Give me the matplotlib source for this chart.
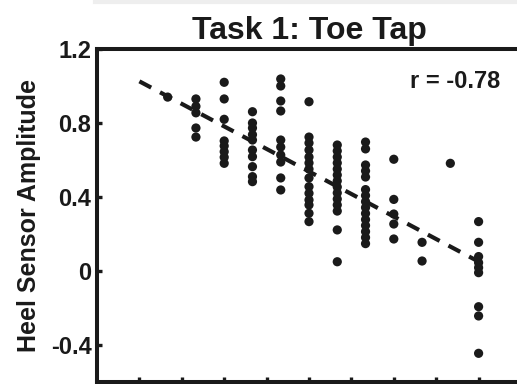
import matplotlib
matplotlib.use("Agg")
import matplotlib.pyplot as plt
from matplotlib.lines import Line2D
import numpy as np

plt.rcParams['font.family'] = ['Liberation Sans', 'DejaVu Sans']
plt.rcParams['font.weight'] = 'bold'

# Heel sensor amplitude for each score level of the toe-tap task
scores = [5, 7, 9, 11, 13, 15, 17, 19, 21, 23, 25, 27]
amplitudes = [
    [0.94],
    [0.93, 0.89, 0.855, 0.773, 0.724],
    [1.02, 0.93, 0.82, 0.703, 0.676, 0.645, 0.615, 0.582],
    [0.861, 0.80, 0.773, 0.737, 0.708, 0.654, 0.618, 0.564, 0.51, 0.483],
    [1.038, 1.0, 0.919, 0.865, 0.708, 0.67, 0.627, 0.589, 0.503, 0.438],
    [0.915, 0.724, 0.692, 0.654, 0.616, 0.584, 0.551, 0.503, 0.456, 0.42,
     0.384, 0.357, 0.312, 0.267],
    [0.681, 0.649, 0.616, 0.584, 0.551, 0.519, 0.487, 0.454, 0.422, 0.389,
     0.357, 0.324, 0.222, 0.05],
    [0.697, 0.66, 0.573, 0.541, 0.508, 0.44, 0.408, 0.375, 0.343, 0.311,
     0.278, 0.246, 0.213, 0.181, 0.148],
    [0.604, 0.387, 0.308, 0.254, 0.173],
    [0.155, 0.054],
    [0.582],
    [0.267, 0.155, 0.078, 0.045, 0.018, -0.009, -0.193, -0.243, -0.445],
]

# Least-squares trend line
fit_slope = -0.0406
fit_intercept = 1.147
fit_x_range = [3, 27]
r_value = -0.78

yticks = [1.2, 0.8, 0.4, 0, -0.4]
ytick_labels = ['1.2', '0.8', '0.4', '0', '-0.4']
xticks = [3, 6, 9, 12, 15, 18, 21, 24, 27]

ink = '#1a1a1a'

fig = plt.figure(figsize=(5.17, 3.84), dpi=100)
ax = fig.add_axes([97 / 517, 2 / 384, 424 / 517, 333 / 384])

xs = np.concatenate([[s] * len(a) for s, a in zip(scores, amplitudes)])
ys = np.concatenate(amplitudes)
ax.scatter(xs, ys, s=44, color=ink, edgecolors='none', zorder=3)

lx = np.array(fit_x_range, dtype=float)
ax.plot(lx, fit_intercept + fit_slope * lx, color=ink, lw=3.0,
        dashes=(3.2, 2.4), dash_capstyle='butt', zorder=2)

ax.set_xlim(0, 30)
ax.set_ylim(-0.6, 1.2)
ax.set_xticks(xticks)
ax.set_yticks(yticks)
ax.set_yticklabels(ytick_labels)
ax.tick_params(axis='both', direction='in', length=3.5, width=2.4,
               color=ink, labelcolor=ink)
ax.tick_params(axis='x', labelbottom=False)
ax.tick_params(axis='y', labelsize=17, pad=4)
for lab in ax.get_yticklabels():
    lab.set_fontweight('bold')

for side in ['left', 'top', 'bottom', 'right']:
    ax.spines[side].set_linewidth(2.9)
    ax.spines[side].set_color(ink)

ax.set_title('Task 1: Toe Tap', fontsize=23, fontweight='bold', color=ink,
             pad=7)
ax.set_ylabel('Heel Sensor Amplitude', fontsize=18, fontweight='bold',
              color=ink)
ax.yaxis.set_label_coords(-0.132, 0.5)

ax.text(0.95, 0.883, f'r = {r_value:.2f}', transform=ax.transAxes,
        ha='right', va='baseline', fontsize=17, fontweight='bold', color=ink)

# faint shadow along the top edge
fig.add_artist(Line2D([95 / 517, 1.0], [1 - 2 / 384, 1 - 2 / 384],
                      color='#eeeeee', lw=3, transform=fig.transFigure))

fig.savefig('out.png', dpi=100)
